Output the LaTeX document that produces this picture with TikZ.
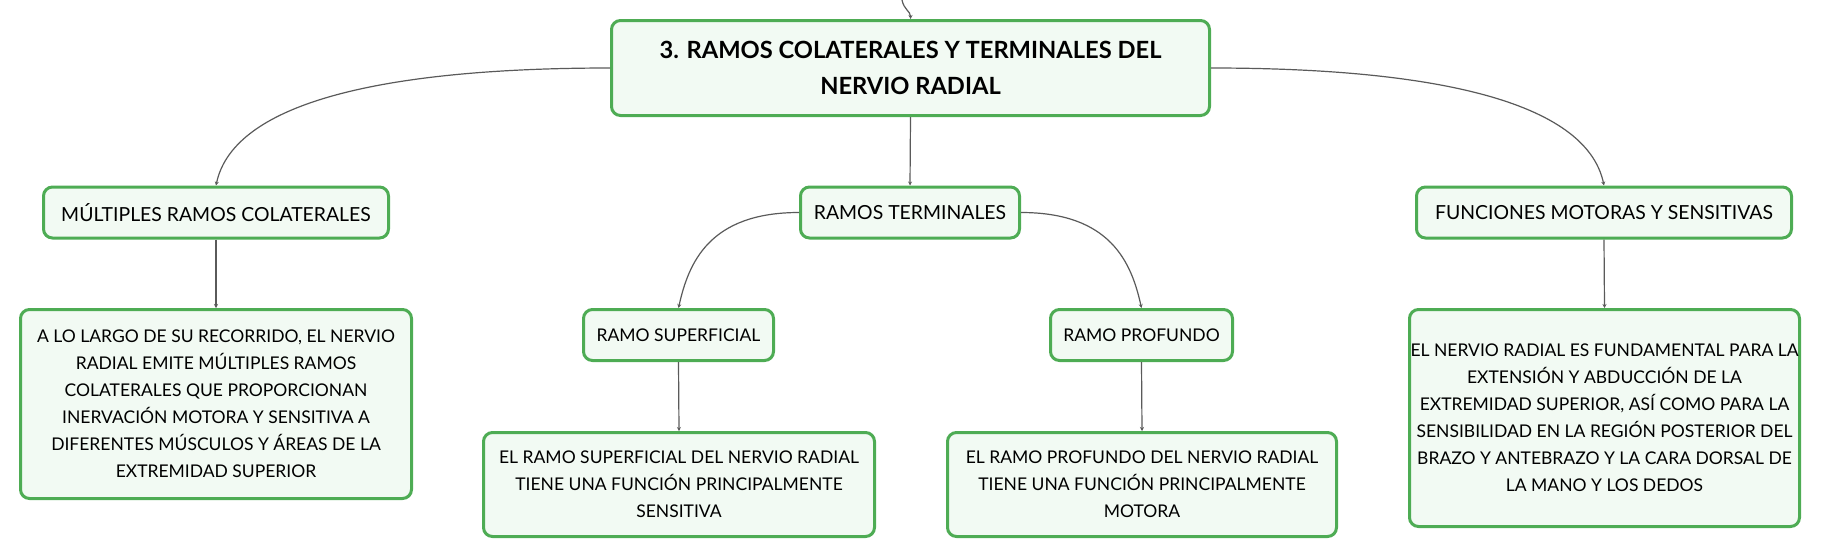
\documentclass[tikz,border=0pt]{standalone}
\usepackage{fontspec}
\setmainfont{Lato}
\usetikzlibrary{arrows.meta}

\definecolor{boxgreen}{RGB}{78,172,84}
\definecolor{boxfill}{RGB}{242,250,243}
\definecolor{linkgray}{RGB}{90,90,90}

\tikzset{
    ideabox/.style={draw=boxgreen, fill=boxfill, line width=1.5pt, rounded corners=4.5pt,
        align=center, inner sep=0pt, minimum height=25.5pt,
        font=\fontsize{9.7}{13.5}\selectfont},
    notebox/.style={ideabox, font=\fontsize{8.75}{13.5}\selectfont},
    titlebox/.style={ideabox, font=\bfseries\fontsize{11.85}{18}\selectfont},
    link/.style={linkgray, line width=0.6pt, -{Stealth[length=2pt,width=2pt]}}
}

\begin{document}
\begin{tikzpicture}[x=0.5pt, y=-0.5pt]
    \useasboundingbox (0,0) rectangle (1821,558);

    % Main topic
    \node[titlebox, minimum width=299pt, minimum height=47.5pt] (title) at (910.5,68)
        {3. RAMOS COLATERALES Y TERMINALES DEL\\NERVIO RADIAL};
    \coordinate (up) at (902,0);

    % Subtopics
    \node[ideabox, minimum width=172.5pt] (mult) at (216,212.5) {MÚLTIPLES RAMOS COLATERALES};
    \node[ideabox, minimum width=109.5pt] (term) at (910,212.5) {RAMOS TERMINALES};
    \node[ideabox, minimum width=187.5pt] (func) at (1604,212.5) {FUNCIONES MOTORAS Y SENSITIVAS};

    \node[notebox, minimum width=95pt] (sup) at (678.5,335) {RAMO SUPERFICIAL};
    \node[notebox, minimum width=91pt] (prof) at (1141.5,335) {RAMO PROFUNDO};

    % Descriptions
    \node[notebox, minimum width=195.5pt, minimum height=94.5pt] (multdesc) at (216,404)
        {A LO LARGO DE SU RECORRIDO, EL NERVIO\\RADIAL EMITE MÚLTIPLES RAMOS\\COLATERALES QUE PROPORCIONAN\\INERVACIÓN MOTORA Y SENSITIVA A\\DIFERENTES MÚSCULOS Y ÁREAS DE LA\\EXTREMIDAD SUPERIOR};
    \node[notebox, minimum width=195.5pt, minimum height=52pt] (supdesc) at (679,484.5)
        {EL RAMO SUPERFICIAL DEL NERVIO RADIAL\\TIENE UNA FUNCIÓN PRINCIPALMENTE\\SENSITIVA};
    \node[notebox, minimum width=194.5pt, minimum height=52pt] (profdesc) at (1142,484.5)
        {EL RAMO PROFUNDO DEL NERVIO RADIAL\\TIENE UNA FUNCIÓN PRINCIPALMENTE\\MOTORA};
    \node[notebox, minimum width=195pt, minimum height=108.5pt] (funcdesc) at (1604.5,418)
        {EL NERVIO RADIAL ES FUNDAMENTAL PARA LA\\EXTENSIÓN Y ABDUCCIÓN DE LA\\EXTREMIDAD SUPERIOR, ASÍ COMO PARA LA\\SENSIBILIDAD EN LA REGIÓN POSTERIOR DEL\\BRAZO Y ANTEBRAZO Y LA CARA DORSAL DE\\LA MANO Y LOS DEDOS};

    % Connectors
    \draw[link] (up) .. controls +(2,10) and +(0,-8) .. (title.north);
    \draw[link] (title.west) .. controls +(-220,0) and +(18,-85) .. (mult.north);
    \draw[link] (title.east) .. controls +(220,0) and +(-18,-85) .. (func.north);
    \draw[link] (title.south) -- (term.north);
    \draw[link] (term.west) .. controls +(-90,0) and +(10,-45) .. (sup.north);
    \draw[link] (term.east) .. controls +(90,0) and +(-10,-45) .. (prof.north);

    \draw[link] (mult.south) -- (multdesc.north);
    \draw[link] (sup.south) -- (supdesc.north);
    \draw[link] (prof.south) -- (profdesc.north);
    \draw[link] (func.south) -- (funcdesc.north);

\end{tikzpicture}
\end{document}
